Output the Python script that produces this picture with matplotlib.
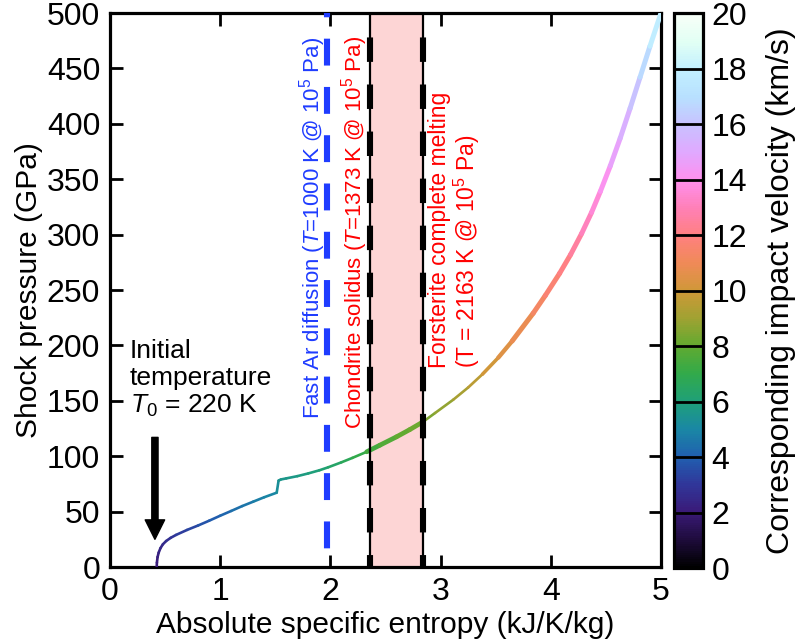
import numpy as np
import matplotlib
matplotlib.use("Agg")
import matplotlib.pyplot as plt
from matplotlib.collections import LineCollection
from matplotlib.colors import LinearSegmentedColormap, Normalize
from matplotlib.cm import ScalarMappable

plt.rcParams['font.family'] = ['Liberation Sans', 'DejaVu Sans']
plt.rcParams['mathtext.fontset'] = 'custom'
plt.rcParams['mathtext.rm'] = 'Liberation Sans'
plt.rcParams['mathtext.it'] = 'Liberation Sans:italic'
plt.rcParams['mathtext.bf'] = 'Liberation Sans:bold'

# ---------------- data ----------------
entropy = [0.424, 0.426, 0.432, 0.442, 0.458, 0.48, 0.51, 0.55, 0.60, 0.70, 0.80, 0.90,
           1.00, 1.10, 1.20, 1.30, 1.40, 1.513,
           1.530, 1.55, 1.60, 1.70, 1.80, 1.90, 1.98, 2.10, 2.20, 2.33, 2.45, 2.60, 2.72,
           2.84, 2.95, 3.115, 3.25, 3.38, 3.524, 3.65, 3.84, 3.95, 4.08, 4.18, 4.28, 4.37,
           4.45, 4.54, 4.63, 4.72, 4.81, 4.90, 5.00]
pressure = [0, 4, 9, 13, 17, 20.5, 23.5, 26.3, 29, 33.5, 37.5, 41.8,
            46.3, 50.6, 55, 59, 63, 67.1,
            78.0, 79, 80, 82, 84.5, 87.3, 90, 94.5, 98.5, 104, 110, 117.5, 124,
            131, 139, 151, 162, 174, 189, 204, 229, 245, 265, 282, 301, 320,
            339, 362, 387, 414, 442, 470, 500]
velocity = [2.0, 2.1, 2.2, 2.3, 2.4, 2.55, 2.7, 2.85, 3.0, 3.3, 3.55, 3.8,
            4.05, 4.3, 4.5, 4.7, 4.85, 5.0,
            5.5, 5.55, 5.6, 5.75, 5.9, 6.05, 6.2, 6.5, 6.8, 7.2, 7.5, 7.9, 8.1,
            8.3, 8.6, 9.0, 9.4, 9.8, 10.2, 10.6, 11.1, 11.5, 11.9, 12.3, 12.8, 13.3,
            13.8, 14.4, 15.0, 15.6, 16.3, 17.2, 18.3]

ar_diffusion_s = 1.97
chondrite_solidus_s = 2.36
forsterite_melt_s = 2.84

arrow_x = 0.408
arrow_top = 117
arrow_tip = 25

xticks = [0, 1, 2, 3, 4, 5]
yticks = list(range(0, 501, 50))
cticks = list(range(0, 21, 2))

# colour map (velocity scale)
cmap_levels = [0, 1, 2, 3, 4, 5, 6, 7, 8, 9, 10, 11, 12, 13, 14, 15, 16, 17, 18, 19, 20]
cmap_colors = ['#000000', '#1e0c3c', '#3a1a78', '#30379a', '#2060b0', '#1a88a4', '#1fa078',
               '#32aa4a', '#62aa30', '#a0a232', '#d09838', '#f08a58', '#ff8080', '#ff80b8',
               '#ff90ee', '#e0a8ff', '#c8c2ff', '#b8e0ff', '#c2f0ff', '#e2fff4', '#f8fff8']
cmap = LinearSegmentedColormap.from_list(
    'vel', list(zip(np.array(cmap_levels) / 20.0, cmap_colors)))
norm = Normalize(0, 20)

# ---------------- figure ----------------
fig = plt.figure(figsize=(7.98, 6.41), dpi=100)
ax = fig.add_axes([0.1378, 0.1154, 0.6905, 0.8643])
cax = fig.add_axes([0.8446, 0.1138, 0.0363, 0.8659])

ax.set_xlim(0, 5)
ax.set_ylim(0, 500)

# pink band
ax.axvspan(chondrite_solidus_s, forsterite_melt_s, color='#fdd5d5', zorder=0, lw=0)

# curve
pts = np.column_stack([entropy, pressure])
segs = np.stack([pts[:-1], pts[1:]], axis=1)
vmid = (np.array(velocity[:-1]) + np.array(velocity[1:])) / 2
xmid = (np.array(entropy[:-1]) + np.array(entropy[1:])) / 2
in_band = (xmid > chondrite_solidus_s) & (xmid < forsterite_melt_s)
lws = np.where(in_band, 3.4, np.interp(xmid, [3.3, 3.7], [1.9, 3.6]))
lc = LineCollection(segs, colors=cmap(norm(vmid)), linewidths=lws, zorder=3,
                    capstyle='round', joinstyle='round')
ax.add_collection(lc)

# vertical lines
ax.plot([ar_diffusion_s] * 2, [500, 0], color='#1f3cff', lw=4.4,
        linestyle=(3.7, (4.4, 3.5)), zorder=4, solid_capstyle='butt')
for s in (chondrite_solidus_s, forsterite_melt_s):
    ax.plot([s, s], [500, 0], color='black', lw=1.6, zorder=4)
    ax.plot([s, s], [500, 0], color='black', lw=4.4,
            linestyle=(3.7, (4.0, 3.7)), zorder=4, solid_capstyle='butt')

# arrow
ax.annotate('', xy=(arrow_x, arrow_tip), xytext=(arrow_x, arrow_top),
            arrowprops=dict(facecolor='black', edgecolor='black', width=4.5,
                            headwidth=14, headlength=14, shrink=0), zorder=5)

# texts
ax.text(0.18, 206, 'Initial\ntemperature\n$T_0$ = 220 K', fontsize=19, ha='left',
        va='top', linespacing=1.15, zorder=5)
ax.text(1.84, 134, 'Fast Ar diffusion ($T$=1000 K @ 10$^5$ Pa)', color='#1f3cff',
        fontsize=16, rotation=90, ha='center', va='bottom', zorder=5)
ax.text(2.22, 125, 'Chondrite solidus ($T$=1373 K @ 10$^5$ Pa)', color='red',
        fontsize=16, rotation=90, ha='center', va='bottom', zorder=5)
ax.text(3.13, 180, 'Forsterite complete melting\n(T = 2163 K @ 10$^5$ Pa)', color='red',
        fontsize=16.5, rotation=90, ha='center', va='bottom', multialignment='left',
        linespacing=1.0, zorder=5)

# axes styling
ax.set_xticks(xticks)
ax.set_yticks(yticks)
ax.tick_params(direction='in', length=9, width=2, labelsize=23, top=True, right=True,
               pad=7)
for sp in ax.spines.values():
    sp.set_linewidth(2.3)
ax.set_xlabel('Absolute specific entropy (kJ/K/kg)', fontsize=21.5, labelpad=3)
ax.set_ylabel('Shock pressure (GPa)', fontsize=21.5, labelpad=3)

# colorbar
sm = ScalarMappable(norm=norm, cmap=cmap)
cb = fig.colorbar(sm, cax=cax)
cb.set_ticks(cticks)
cax.tick_params(direction='in', length=0, labelsize=23, pad=6)
cb.outline.set_linewidth(2.3)
for t in cticks[1:-1]:
    cax.axhline(t, color='black', lw=2)
cb.set_label('Corresponding impact velocity (km/s)', fontsize=23, labelpad=14)

fig.savefig('out.png', dpi=100)
